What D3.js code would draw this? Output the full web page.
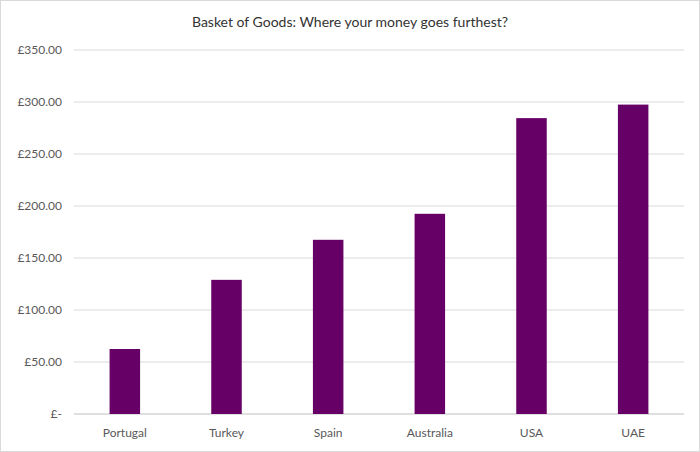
<!DOCTYPE html>
<html><head><meta charset="utf-8">
<script src="https://cdn.jsdelivr.net/npm/d3@7"></script>
<style>body{margin:0;background:#fff}text{font-family:Lato,"Open Sans",sans-serif}</style>
</head><body><svg id="c" width="700" height="452"></svg>
<script>
const categories=["Portugal","Turkey","Spain","Australia","USA","UAE"];
const values=[62.5,129,167.5,192.5,284.5,297.5];
const ticks=[0,50,100,150,200,250,300,350];
const title="Basket of Goods: Where your money goes furthest?";

const svg=d3.select("#c");
svg.append("rect").attr("x",0.5).attr("y",0.5).attr("width",699).attr("height",451).attr("fill","#fff").attr("stroke","#d9d9d9");
const x=d3.scaleBand().domain(categories).range([74,684]).paddingInner(0.7).paddingOuter(0.35);
const y=d3.scaleLinear().domain([0,350]).range([414,50]);
svg.append("g").selectAll("line").data(ticks).join("line")
 .attr("x1",74).attr("x2",684).attr("y1",d=>y(d)).attr("y2",d=>y(d))
 .attr("stroke",d=>d===0?"#bfbfbf":"#d9d9d9");
svg.append("g").selectAll("text").data(ticks).join("text")
 .attr("x",62).attr("y",d=>y(d)+4).attr("text-anchor","end").attr("font-size",12).attr("fill","#595959")
 .text(d=>d===0?"£-":"£"+d3.format(".2f")(d));
svg.append("g").selectAll("rect").data(values).join("rect")
 .attr("x",(d,i)=>x(categories[i])).attr("width",x.bandwidth())
 .attr("y",d=>y(d)).attr("height",d=>y(0)-y(d)).attr("fill","#660066");
svg.append("g").selectAll("text").data(categories).join("text")
 .attr("x",d=>x(d)+x.bandwidth()/2).attr("y",437).attr("text-anchor","middle").attr("font-size",12).attr("fill","#595959").text(d=>d);
svg.append("text").attr("x",350).attr("y",27).attr("text-anchor","middle").attr("font-size",14).attr("fill","#333").text(title);
</script></body></html>
